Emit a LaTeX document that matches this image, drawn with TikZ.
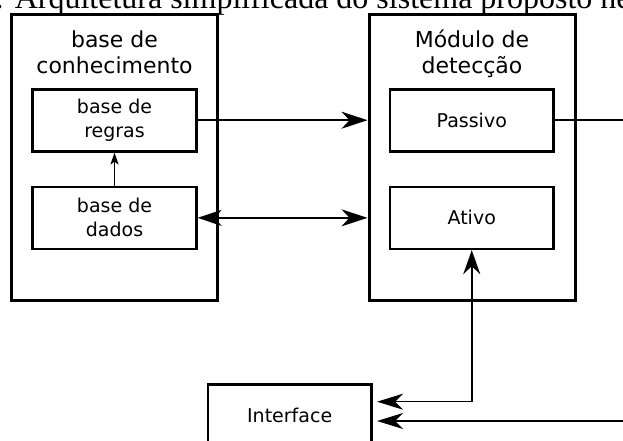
\documentclass[tikz,border=0pt]{standalone}
\usepackage{fontspec}
\setmainfont{DejaVu Sans}
\newfontfamily\captionfont{Liberation Serif}
\usetikzlibrary{arrows.meta, calc}

\begin{document}
\begin{tikzpicture}[x=1pt, y=-1pt,
    outerbox/.style={draw=black, line width=3pt, minimum width=206pt, minimum height=285.3pt},
    innerbox/.style={draw=black, line width=2.7pt, minimum width=163.5pt, minimum height=62pt,
      align=center, font=\fontsize{19}{24}\selectfont},
    title/.style={align=center, inner sep=0pt, font=\fontsize{22}{26}\selectfont},
    conn/.style={line width=1.5pt}
  ]
  \clip (0,0) rectangle (623,441);

  % caption of the figure, cut at the top
  \node[anchor=base west, inner sep=0pt, font=\captionfont\fontsize{32}{38}\selectfont]
    (caption) at (-5,9) {: Arquitetura simplificada do sistema proposto ne};

  % the two modules
  \node[outerbox] (conh) at (114.25,157.35) {};
  \node[outerbox] (modulo) at (472,157.35) {};
  \node[title, anchor=base] (conh-title) at (114.5,73.3) {base de\\conhecimento};
  \node[title, anchor=base] (modulo-title) at (472,73.3) {Módulo de\\detecção};

  \node[innerbox] (regras) at (114.5,120.2) {base de\\regras};
  \node[innerbox] (dados) at (114.5,217.85) {base de\\dados};
  \node[innerbox] (passivo) at (471.75,120.2) {Passivo};
  \node[innerbox] (ativo) at (471.75,217.85) {Ativo};
  \node[innerbox] (iface) at (289.65,415.7) {Interface};

  \coordinate (iface-in1) at ($(iface.east)+(4.3,-14)$);
  \coordinate (iface-in2) at ($(iface.east)+(4.3,5.3)$);

  % connectors
  \draw[conn, -{Stealth[length=12pt, width=8pt, inset=3pt]}] (dados) -- (regras);
  \draw[conn, -{Stealth[length=26pt, width=17pt, inset=8pt]}] (regras.east) -- (modulo.west |- regras.east);
  \draw[conn, {Stealth[length=24pt, width=16pt, inset=7pt]}-{Stealth[length=26pt, width=17pt, inset=8pt]}]
    (dados.east) -- (modulo.west |- dados.east);
  \draw[conn, {Stealth[length=26pt, width=16pt, inset=8pt]}-{Stealth[length=24pt, width=17pt, inset=8pt]}]
    (iface-in1) -| (ativo.south);
  \draw[conn, -{Stealth[length=26pt, width=16pt, inset=8pt]}] (passivo.east) -- ++(100,0) |- (iface-in2);
\end{tikzpicture}
\end{document}
